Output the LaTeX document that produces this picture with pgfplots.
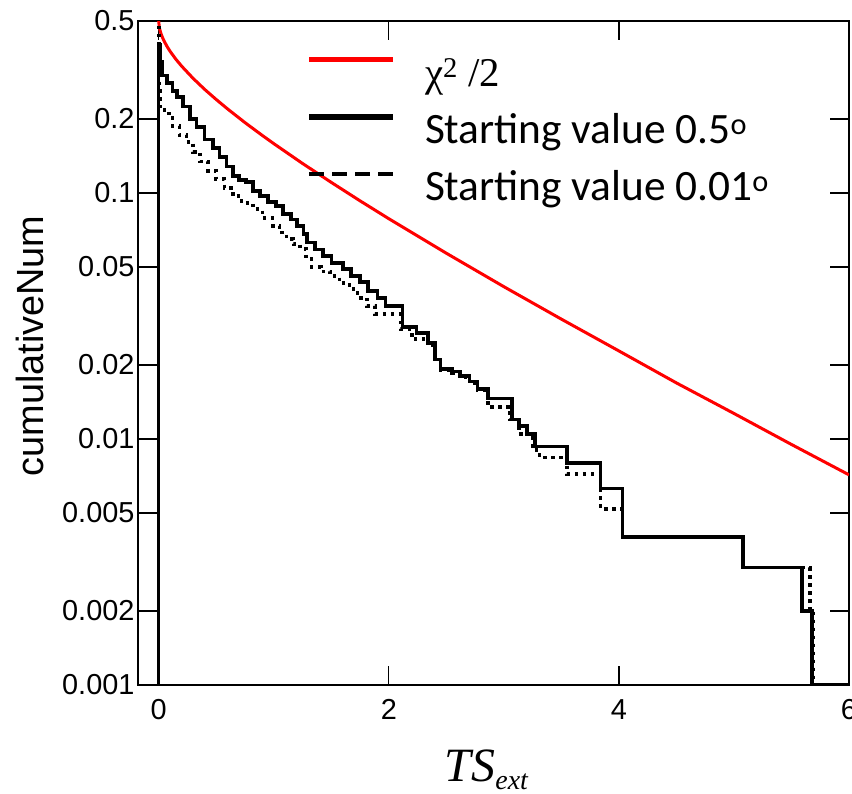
\documentclass[border=0pt]{standalone}
\usepackage{fontspec}
\usepackage{pgfplots}
\usepackage{pgfplotstable}
\pgfplotsset{compat=1.18}
\setmainfont{Liberation Sans}
\newfontfamily\legendfont{Carlito}
\newfontfamily\seriffont{Liberation Serif}

% chi^2/2 reference curve
\pgfplotstableread{
x y
0     0.5
0.005 0.4718
0.01  0.4601
0.02  0.4438
0.04  0.4207
0.07  0.3957
0.1   0.3759
0.15  0.3493
0.2   0.3274
0.3   0.2920
0.4   0.2635
0.5   0.2398
0.6   0.2193
0.75  0.1932
0.9   0.1714
1.0   0.1587
1.25  0.1318
1.5   0.1104
1.75  0.0929
2.0   0.0786
2.5   0.0569
3.0   0.0416
3.5   0.0307
4.0   0.0228
4.5   0.0169
5.0   0.0127
5.5   0.0095
6.0   0.00715
}\chisq

% starting value 0.5 deg
\pgfplotstableread{
x y
0     0.001
0     0.40
0.01  0.34
0.03  0.30
0.07  0.28
0.12  0.26
0.16  0.245
0.21  0.225
0.27  0.20
0.33  0.185
0.40  0.165
0.47  0.152
0.53  0.140
0.59  0.128
0.645 0.117
0.70  0.113
0.76  0.111
0.82  0.102
0.88  0.097
0.95  0.092
1.02  0.0886
1.08  0.082
1.15  0.078
1.20  0.0735
1.26  0.068
1.29  0.063
1.36  0.059
1.43  0.0555
1.50  0.052
1.60  0.049
1.67  0.046
1.75  0.0435
1.82  0.040
1.90  0.0375
1.97  0.0347
2.12  0.0285
2.24  0.027
2.34  0.0245
2.40  0.021
2.45  0.0193
2.55  0.0188
2.62  0.0180
2.70  0.0171
2.77  0.0160
2.86  0.0146
3.07  0.0120
3.13  0.0113
3.20  0.0105
3.27  0.0093
3.55  0.0080
3.84  0.0063
4.03  0.0040
5.08  0.0030
5.59  0.0020
5.68  0.0010
6.00  0.0010
}\runA

% starting value 0.01 deg
\pgfplotstableread{
x y
0     0.001
0     0.47
0.005 0.26
0.01  0.225
0.05  0.21
0.12  0.187
0.18  0.172
0.24  0.161
0.30  0.147
0.36  0.134
0.43  0.123
0.50  0.114
0.57  0.105
0.645 0.097
0.72  0.091
0.82  0.086
0.90  0.079
0.99  0.0735
1.05  0.069
1.11  0.065
1.17  0.062
1.23  0.0592
1.28  0.054
1.33  0.050
1.41  0.048
1.49  0.046
1.57  0.043
1.66  0.0407
1.73  0.0375
1.81  0.0347
1.88  0.0322
2.10  0.028
2.20  0.0255
2.34  0.024
2.40  0.021
2.45  0.0190
2.55  0.0185
2.62  0.0178
2.70  0.0168
2.77  0.0158
2.86  0.0135
3.05  0.0120
3.13  0.0105
3.25  0.0090
3.31  0.0084
3.55  0.0072
3.84  0.0052
4.03  0.0040
5.08  0.0030
5.66  0.0020
5.69  0.0010
6.00  0.0010
}\runB

\begin{document}
\begin{tikzpicture}
\begin{axis}[
  scale only axis, width=711bp, height=664bp,
  xmin=-0.18, xmax=6, ymin=0.001, ymax=0.5, ymode=log,
  xtick={0,2,4,6},
  ytick={0.001,0.002,0.005,0.01,0.02,0.05,0.1,0.2,0.5},
  yticklabels={0.001,0.002,0.005,0.01,0.02,0.05,0.1,0.2,0.5},
  yminorticks=false, xminorticks=false,
  tick align=inside, major tick length=19bp,
  tick style={line width=1.2bp, black},
  axis line style={line width=1.3bp},
  /pgf/number format/assume math mode=true,
  ticklabel style={font=\fontsize{29}{31}\selectfont},
  xticklabel style={yshift=-11bp},
  xlabel={\seriffont\itshape\fontsize{48}{50}\selectfont TS\raisebox{-8bp}{\fontsize{28}{30}\selectfont ext}},
  xlabel style={at={(axis description cs:0.49,-0.1446)}, anchor=base},
  ylabel={\fontsize{38}{40}\selectfont cumulativeNum},
  ylabel style={at={(axis description cs:-0.1336,0.5105)}, anchor=base},
  legend style={draw=none, fill=none, at={(axis description cs:0.2363,0.9458)},
    anchor=north west, inner sep=0pt, outer sep=0pt,
    column sep=29bp, row sep=12bp,
    cells={anchor=base west},
    nodes={inner sep=0pt, text height=30bp, text depth=15bp}},
]
\addplot[red, line width=3bp, no markers,
  legend image code/.code={\draw[red, line width=5bp] (0bp,27bp) -- (84bp,27bp);}]
  table[x=x, y=y] {\chisq};
\addlegendentry{\seriffont\fontsize{41}{44}\selectfont χ\textsuperscript{2} /2}
\addplot[black, line width=3.5bp, const plot, no markers,
  legend image code/.code={\draw[black, line width=6bp] (0bp,27bp) -- (84bp,27bp);}]
  table[x=x, y=y] {\runA};
\addlegendentry{\legendfont\fontsize{43.5}{48}\selectfont Starting value 0.5\textsuperscript{o}}
\addplot[black, line width=3.5bp, const plot, no markers, dash pattern=on 3.5bp off 4.5bp,
  legend image code/.code={\draw[black, line width=4bp, dash pattern=on 15bp off 8bp] (0bp,27bp) -- (84bp,27bp);}]
  table[x=x, y=y] {\runB};
\addlegendentry{\legendfont\fontsize{43.5}{48}\selectfont Starting value 0.01\textsuperscript{o}}
\coordinate (llc) at (rel axis cs:0,0);
\coordinate (urc) at (rel axis cs:1,1);
\end{axis}
\pgfresetboundingbox
\path ([xshift=-138bp,yshift=-109bp]llc) rectangle ([xshift=3bp,yshift=21bp]urc);
\end{tikzpicture}
\end{document}
